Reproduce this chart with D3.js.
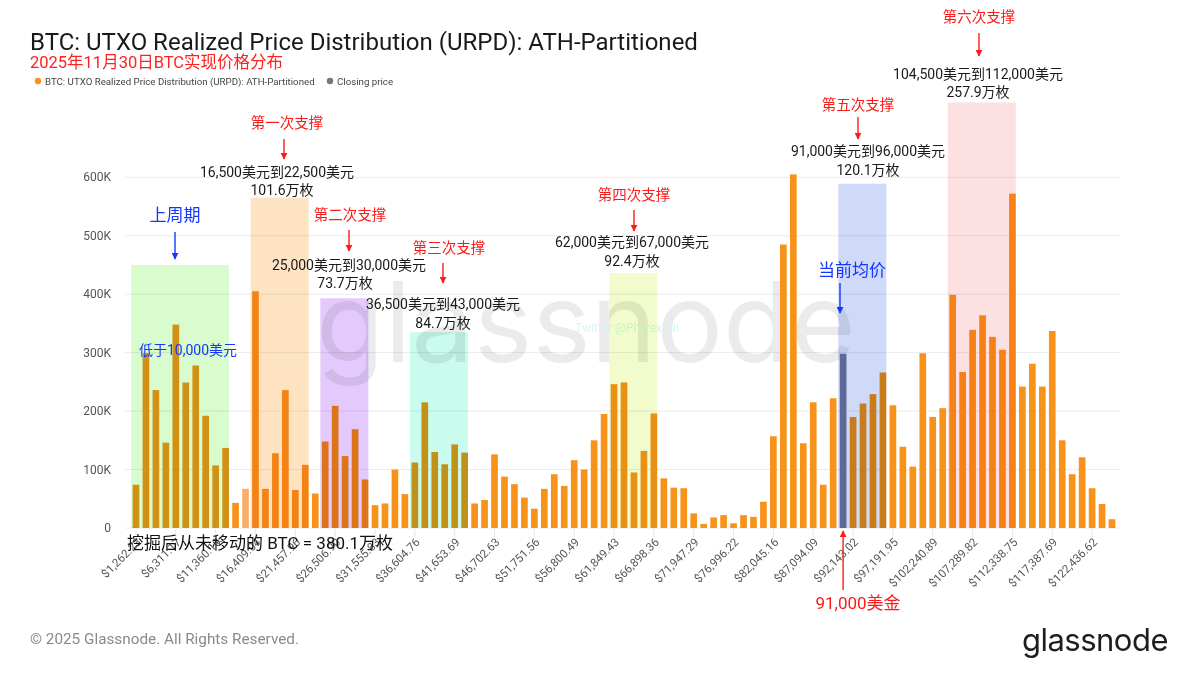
<!DOCTYPE html>
<html>
<head>
<meta charset="utf-8">
<script src="https://cdn.jsdelivr.net/npm/d3@7"></script>
<style>
  body { margin: 0; background: #fff; }
  svg text { font-family: Roboto, "Noto Sans CJK SC", sans-serif; }
</style>
</head>
<body>
<div id="chart"></div>
<script>
// URPD bins (each ~1,262.23 USD wide), supply per bin in BTC
const supply = [
  74000, 299000, 236000, 146000, 348000, 249000, 278000, 192000, 107000, 137000,
  43000, 67000, 405000, 67000, 128000, 236000, 65000, 108000, 59000, 148000,
  209000, 123000, 169000, 83000, 39000, 42000, 100000, 58000, 112000, 215000,
  130000, 109000, 143000, 129000, 42000, 48000, 126000, 88000, 75000, 52000,
  33000, 67000, 92000, 72000, 116000, 100000, 150000, 195000, 246000, 249000,
  95000, 132000, 196000, 85000, 69000, 68000, 25000, 7000, 18000, 22000,
  8000, 22000, 19000, 45000, 157000, 485000, 605000, 145000, 215000, 74000,
  222000, 298000, 190000, 213000, 229000, 266000, 210000, 139000, 105000, 299000,
  190000, 205000, 399000, 267000, 339000, 364000, 327000, 305000, 572000, 242000,
  281000, 242000, 337000, 150000, 92000, 121000, 68000, 41000, 15000
];

// x tick labels, one every 4 bins starting at the first bin
const tickLabels = [
  "$1,262.23", "$6,311.17", "$11,360.10", "$16,409.04", "$21,457.96",
  "$26,506.90", "$31,555.83", "$36,604.76", "$41,653.69", "$46,702.63",
  "$51,751.56", "$56,800.49", "$61,849.43", "$66,898.36", "$71,947.29",
  "$76,996.22", "$82,045.16", "$87,094.09", "$92,143.02", "$97,191.95",
  "$102,240.89", "$107,289.82", "$112,338.75", "$117,387.69", "$122,436.62"
];

const yTicks = [0, 100000, 200000, 300000, 400000, 500000, 600000];

// bin holding the closing price and one lighter bin
const closingBin = 71;
const lightBin = 11;

// highlighted zones: first bin, last bin, top of shading (BTC scale)
const zoneStart = [0, 12, 19, 28, 48, 71, 82];
const zoneEnd   = [9, 17, 23, 33, 52, 75, 88];
const zoneTop   = [450000, 565000, 393000, 335000, 436000, 589000, 728000];
const zoneColor = ["#d8fccd", "#fde3c2", "#e3c9fc", "#c9fcee", "#f1fbcc", "#cfd9f8", "#fde0e1"];

const width = 1200, height = 675;

const svg = d3.select("#chart").append("svg")
    .attr("width", width)
    .attr("height", height);

const defs = svg.append("defs");
[["red", "#ff1a1a"], ["blue", "#1437ff"]].forEach(([id, c]) => {
    defs.append("marker")
        .attr("id", "head-" + id)
        .attr("viewBox", "0 0 10 10")
        .attr("refX", 9).attr("refY", 5)
        .attr("markerWidth", 5).attr("markerHeight", 5)
        .attr("orient", "auto")
      .append("path")
        .attr("d", "M0,0L10,5L0,10Z")
        .attr("fill", c);
});

// Scales
const x = d3.scaleBand()
    .domain(d3.range(supply.length))
    .range([131, 1117])
    .paddingInner(0.33)
    .paddingOuter(0.165);

const y = d3.scaleLinear()
    .domain([0, 600000])
    .range([528, 177.3]);

// Title + subtitle + legend
svg.append("text")
    .attr("x", 30).attr("y", 50)
    .style("font-size", "24px")
    .style("fill", "#1a1a1a")
    .text("BTC: UTXO Realized Price Distribution (URPD): ATH-Partitioned");

svg.append("text")
    .attr("x", 30).attr("y", 68)
    .style("font-size", "16.5px")
    .style("fill", "#ff2020")
    .text("2025年11月30日BTC实现价格分布");

const legend = svg.append("g").attr("transform", "translate(0,81)");
legend.append("circle").attr("cx", 38).attr("cy", 0).attr("r", 3.2).attr("fill", "#f7931a");
legend.append("text").attr("x", 45).attr("y", 3.5)
    .style("font-size", "9.7px").style("fill", "#444")
    .text("BTC: UTXO Realized Price Distribution (URPD): ATH-Partitioned");
legend.append("circle").attr("cx", 330).attr("cy", 0).attr("r", 3.2).attr("fill", "#777");
legend.append("text").attr("x", 337).attr("y", 3.5)
    .style("font-size", "9.7px").style("fill", "#444")
    .text("Closing price");

// Gridlines + y labels
const grid = svg.append("g");
grid.selectAll("line")
    .data(yTicks)
    .enter().append("line")
    .attr("x1", 125).attr("x2", 1120)
    .attr("y1", d => y(d)).attr("y2", d => y(d))
    .style("stroke", "#ececec");

grid.selectAll("text")
    .data(yTicks)
    .enter().append("text")
    .attr("x", 111)
    .attr("y", d => y(d) + 4)
    .attr("text-anchor", "end")
    .style("font-size", "12px")
    .style("fill", "#555")
    .text(d => d === 0 ? "0" : d3.format("~s")(d).replace("k", "K"));

// Watermarks
svg.append("text")
    .attr("x", 586).attr("y", 362)
    .attr("text-anchor", "middle")
    .style("font-size", "111px")
    .style("font-family", "Inter, 'Open Sans', sans-serif")
    .style("fill", "#000")
    .style("fill-opacity", 0.08)
    .text("glassnode");

svg.append("text")
    .attr("x", 627).attr("y", 332)
    .attr("text-anchor", "middle")
    .style("font-size", "12px")
    .style("fill", "#d6f6fa")
    .text("Twitter @Phyrex_Ni");

// Bars
svg.append("g")
    .selectAll("rect")
    .data(supply)
    .enter().append("rect")
    .attr("x", (d, i) => x(i))
    .attr("width", x.bandwidth())
    .attr("y", d => y(d))
    .attr("height", d => y(0) - y(d))
    .attr("fill", (d, i) => i === closingBin ? "#707c9c" : i === lightBin ? "#f7b06a" : "#f7931a");

// Shaded zones on top (multiply, so bars show through tinted)
const pad = x.step() * 0.15;
svg.append("g")
    .selectAll("rect")
    .data(zoneStart)
    .enter().append("rect")
    .attr("x", (d, i) => x(d) - pad)
    .attr("width", (d, i) => x(zoneEnd[i]) + x.bandwidth() - x(d) + pad)
    .attr("y", (d, i) => y(zoneTop[i]))
    .attr("height", (d, i) => y(0) - y(zoneTop[i]))
    .attr("fill", (d, i) => zoneColor[i])
    .style("mix-blend-mode", "multiply");

// X axis ticks + labels
const tickIdx = tickLabels.map((t, k) => k * 4);
const xt = svg.append("g");
xt.selectAll("line")
    .data(tickIdx)
    .enter().append("line")
    .attr("x1", d => x(d) + x.bandwidth() / 2)
    .attr("x2", d => x(d) + x.bandwidth() / 2)
    .attr("y1", 529).attr("y2", 537)
    .style("stroke", "#e6e6e6");

xt.selectAll("text")
    .data(tickIdx)
    .enter().append("text")
    .attr("transform", d => `translate(${x(d) + x.bandwidth() / 2 + 3},${540}) rotate(-45)`)
    .attr("text-anchor", "end")
    .attr("dy", "0.35em")
    .style("font-size", "11.5px")
    .style("fill", "#555")
    .text((d, k) => tickLabels[k]);

// Annotations
const ann = svg.append("g");

function label(xp, yp, txt, size, color, anchor) {
    ann.append("text")
        .attr("x", xp).attr("y", yp)
        .attr("text-anchor", anchor || "middle")
        .style("font-size", size + "px")
        .style("fill", color)
        .text(txt);
}

function arrow(xp, y1, y2, kind) {
    ann.append("line")
        .attr("x1", xp).attr("x2", xp)
        .attr("y1", y1).attr("y2", y2)
        .style("stroke", kind === "blue" ? "#1437ff" : "#ff1a1a")
        .style("stroke-width", 1.4)
        .attr("marker-end", `url(#head-${kind})`);
}

const RED = "#ff1a1a", BLUE = "#1437ff", INK = "#1a1a1a";

// previous cycle
label(175, 221, "上周期", 17, BLUE);
arrow(175, 232, 259, "blue");
label(188, 355, "低于10,000美元", 14, BLUE);

// 1st support
label(287, 128, "第一次支撑", 14.5, RED);
arrow(284, 139, 159, "red");
label(277, 177, "16,500美元到22,500美元", 14, INK);
label(282, 195, "101.6万枚", 14, INK);

// 2nd support
label(350, 220, "第二次支撑", 14.5, RED);
arrow(349, 230, 251, "red");
label(349, 270, "25,000美元到30,000美元", 14, INK);
label(345, 288, "73.7万枚", 14, INK);

// 3rd support
label(449, 253, "第三次支撑", 14.5, RED);
arrow(443, 263, 283, "red");
label(443, 309, "36,500美元到43,000美元", 14, INK);
label(443, 328, "84.7万枚", 14, INK);

// 4th support
label(634, 200, "第四次支撑", 14.5, RED);
arrow(634, 210, 231, "red");
label(632, 247, "62,000美元到67,000美元", 14, INK);
label(632, 266, "92.4万枚", 14, INK);

// 5th support
label(858, 110, "第五次支撑", 14.5, RED);
arrow(858, 117, 139, "red");
label(868, 156, "91,000美元到96,000美元", 14, INK);
label(868, 175, "120.1万枚", 14, INK);

// current average
label(852, 276, "当前均价", 17, BLUE);
arrow(840, 283, 313, "blue");

// 6th support
label(979, 22, "第六次支撑", 14.5, RED);
arrow(979, 33, 56, "red");
label(978, 79, "104,500美元到112,000美元", 14, INK);
label(978, 97, "257.9万枚", 14, INK);

// never moved coins
label(127, 549, "挖掘后从未移动的 BTC = 380.1万枚", 17, "#111", "start");

// closing price pointer
arrow(x(closingBin) + x.bandwidth() / 2, 590, 531, "red");
label(858, 609, "91,000美金", 17, RED);

// Footer
svg.append("text")
    .attr("x", 30).attr("y", 644)
    .style("font-size", "15.3px")
    .style("fill", "#8a8a8a")
    .text("© 2025 Glassnode. All Rights Reserved.");

svg.append("text")
    .attr("x", 1168).attr("y", 651)
    .attr("text-anchor", "end")
    .style("font-size", "31px")
    .style("font-family", "Inter, 'Open Sans', sans-serif")
    .style("letter-spacing", "-0.5px")
    .style("fill", "#1e1e1e")
    .text("glassnode");
</script>
</body>
</html>
